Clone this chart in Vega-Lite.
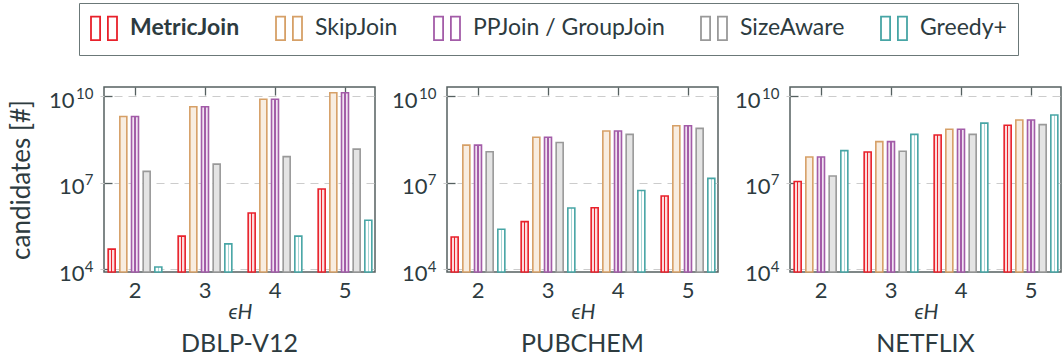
{
  "$schema": "https://vega.github.io/schema/vega-lite/v6.json",
  "background": "white",
  "padding": {"left": 7, "top": 2, "right": 0, "bottom": 0},
  "bounds": "flush",
  "spacing": 72,
  "datasets": {
    "rows": [
      {"dataset": "DBLP-V12", "eps": 2, "algo": "MetricJoin", "candidates": 5.0e4},
      {"dataset": "DBLP-V12", "eps": 2, "algo": "SkipJoin", "candidates": 1.95e9},
      {"dataset": "DBLP-V12", "eps": 2, "algo": "PPJoin / GroupJoin", "candidates": 1.95e9},
      {"dataset": "DBLP-V12", "eps": 2, "algo": "SizeAware", "candidates": 2.45e7},
      {"dataset": "DBLP-V12", "eps": 2, "algo": "Greedy+", "candidates": 1.2e4},
      {"dataset": "DBLP-V12", "eps": 3, "algo": "MetricJoin", "candidates": 1.41e5},
      {"dataset": "DBLP-V12", "eps": 3, "algo": "SkipJoin", "candidates": 4.27e9},
      {"dataset": "DBLP-V12", "eps": 3, "algo": "PPJoin / GroupJoin", "candidates": 4.27e9},
      {"dataset": "DBLP-V12", "eps": 3, "algo": "SizeAware", "candidates": 4.37e7},
      {"dataset": "DBLP-V12", "eps": 3, "algo": "Greedy+", "candidates": 7.6e4},
      {"dataset": "DBLP-V12", "eps": 4, "algo": "MetricJoin", "candidates": 8.9e5},
      {"dataset": "DBLP-V12", "eps": 4, "algo": "SkipJoin", "candidates": 7.76e9},
      {"dataset": "DBLP-V12", "eps": 4, "algo": "PPJoin / GroupJoin", "candidates": 7.76e9},
      {"dataset": "DBLP-V12", "eps": 4, "algo": "SizeAware", "candidates": 7.94e7},
      {"dataset": "DBLP-V12", "eps": 4, "algo": "Greedy+", "candidates": 1.41e5},
      {"dataset": "DBLP-V12", "eps": 5, "algo": "MetricJoin", "candidates": 6.0e6},
      {"dataset": "DBLP-V12", "eps": 5, "algo": "SkipJoin", "candidates": 1.29e10},
      {"dataset": "DBLP-V12", "eps": 5, "algo": "PPJoin / GroupJoin", "candidates": 1.29e10},
      {"dataset": "DBLP-V12", "eps": 5, "algo": "SizeAware", "candidates": 1.45e8},
      {"dataset": "DBLP-V12", "eps": 5, "algo": "Greedy+", "candidates": 5.0e5},
      {"dataset": "PUBCHEM", "eps": 2, "algo": "MetricJoin", "candidates": 1.32e5},
      {"dataset": "PUBCHEM", "eps": 2, "algo": "SkipJoin", "candidates": 2.0e8},
      {"dataset": "PUBCHEM", "eps": 2, "algo": "PPJoin / GroupJoin", "candidates": 2.0e8},
      {"dataset": "PUBCHEM", "eps": 2, "algo": "SizeAware", "candidates": 1.17e8},
      {"dataset": "PUBCHEM", "eps": 2, "algo": "Greedy+", "candidates": 2.45e5},
      {"dataset": "PUBCHEM", "eps": 3, "algo": "MetricJoin", "candidates": 4.47e5},
      {"dataset": "PUBCHEM", "eps": 3, "algo": "SkipJoin", "candidates": 3.72e8},
      {"dataset": "PUBCHEM", "eps": 3, "algo": "PPJoin / GroupJoin", "candidates": 3.72e8},
      {"dataset": "PUBCHEM", "eps": 3, "algo": "SizeAware", "candidates": 2.45e8},
      {"dataset": "PUBCHEM", "eps": 3, "algo": "Greedy+", "candidates": 1.32e6},
      {"dataset": "PUBCHEM", "eps": 4, "algo": "MetricJoin", "candidates": 1.35e6},
      {"dataset": "PUBCHEM", "eps": 4, "algo": "SkipJoin", "candidates": 6.17e8},
      {"dataset": "PUBCHEM", "eps": 4, "algo": "PPJoin / GroupJoin", "candidates": 6.17e8},
      {"dataset": "PUBCHEM", "eps": 4, "algo": "SizeAware", "candidates": 4.68e8},
      {"dataset": "PUBCHEM", "eps": 4, "algo": "Greedy+", "candidates": 5.37e6},
      {"dataset": "PUBCHEM", "eps": 5, "algo": "MetricJoin", "candidates": 3.47e6},
      {"dataset": "PUBCHEM", "eps": 5, "algo": "SkipJoin", "candidates": 9.33e8},
      {"dataset": "PUBCHEM", "eps": 5, "algo": "PPJoin / GroupJoin", "candidates": 9.33e8},
      {"dataset": "PUBCHEM", "eps": 5, "algo": "SizeAware", "candidates": 7.59e8},
      {"dataset": "PUBCHEM", "eps": 5, "algo": "Greedy+", "candidates": 1.41e7},
      {"dataset": "NETFLIX", "eps": 2, "algo": "MetricJoin", "candidates": 1.1e7},
      {"dataset": "NETFLIX", "eps": 2, "algo": "SkipJoin", "candidates": 7.76e7},
      {"dataset": "NETFLIX", "eps": 2, "algo": "PPJoin / GroupJoin", "candidates": 7.76e7},
      {"dataset": "NETFLIX", "eps": 2, "algo": "SizeAware", "candidates": 1.7e7},
      {"dataset": "NETFLIX", "eps": 2, "algo": "Greedy+", "candidates": 1.29e8},
      {"dataset": "NETFLIX", "eps": 3, "algo": "MetricJoin", "candidates": 1.15e8},
      {"dataset": "NETFLIX", "eps": 3, "algo": "SkipJoin", "candidates": 2.63e8},
      {"dataset": "NETFLIX", "eps": 3, "algo": "PPJoin / GroupJoin", "candidates": 2.63e8},
      {"dataset": "NETFLIX", "eps": 3, "algo": "SizeAware", "candidates": 1.23e8},
      {"dataset": "NETFLIX", "eps": 3, "algo": "Greedy+", "candidates": 4.68e8},
      {"dataset": "NETFLIX", "eps": 4, "algo": "MetricJoin", "candidates": 4.47e8},
      {"dataset": "NETFLIX", "eps": 4, "algo": "SkipJoin", "candidates": 7.08e8},
      {"dataset": "NETFLIX", "eps": 4, "algo": "PPJoin / GroupJoin", "candidates": 7.08e8},
      {"dataset": "NETFLIX", "eps": 4, "algo": "SizeAware", "candidates": 4.68e8},
      {"dataset": "NETFLIX", "eps": 4, "algo": "Greedy+", "candidates": 1.15e9},
      {"dataset": "NETFLIX", "eps": 5, "algo": "MetricJoin", "candidates": 9.77e8},
      {"dataset": "NETFLIX", "eps": 5, "algo": "SkipJoin", "candidates": 1.48e9},
      {"dataset": "NETFLIX", "eps": 5, "algo": "PPJoin / GroupJoin", "candidates": 1.48e9},
      {"dataset": "NETFLIX", "eps": 5, "algo": "SizeAware", "candidates": 1.02e9},
      {"dataset": "NETFLIX", "eps": 5, "algo": "Greedy+", "candidates": 2.19e9}
    ]
  },
  "data": {"name": "rows"},
  "hconcat": [
    {
      "width": 271,
      "height": 185,
      "transform": [{"filter": "datum.dataset === 'DBLP-V12'"}],
      "title": {"text": "DBLP-V12"},
      "layer": [
        {
          "mark": {"type": "bar", "strokeWidth": 1.6},
          "encoding": {
            "x": {"field": "eps", "type": "ordinal", "scale": {"range": [-4, 276], "paddingInner": 0.2, "paddingOuter": 0.1},
              "axis": {"orient": "bottom", "title": "ϵH", "titleFontStyle": "italic", "titleFontWeight": "normal", "titleFontSize": 21, "titlePadding": 0, "labelAngle": 0, "labelFontSize": 22, "labelPadding": 15, "tickSize": -7, "domain": false, "grid": false}},
            "xOffset": {"field": "algo", "type": "nominal", "sort": ["MetricJoin", "SkipJoin", "PPJoin / GroupJoin", "SizeAware", "Greedy+"], "scale": {"paddingInner": 0.4, "paddingOuter": 0.1}},
            "y": {"field": "candidates", "type": "quantitative", "stack": null, "scale": {"type": "log", "domain": [8070, 2.05e10], "nice": false},
              "axis": {"orient": "left", "title": "candidates [#]", "titleFontSize": 26, "titleFontWeight": "normal", "titlePadding": 14, "values": [10000, 10000000, 10000000000],
                "labelExpr": "'10'", "labelFontSize": 22, "labelPadding": {"condition": {"test": "datum.value > 1e9", "value": 38}, "value": 28}, "labelOffset": 4, "tickSize": -8, "domain": false,
                "grid": true, "gridDash": [8, 6], "gridColor": "#cccccc", "gridWidth": 1.2}},
            "stroke": {"field": "algo", "type": "nominal",
              "scale": {"domain": ["MetricJoin", "SkipJoin", "PPJoin / GroupJoin", "SizeAware", "Greedy+"], "range": ["#e8212b", "#d6a067", "#a35ca8", "#999999", "#47a5a5"]},
              "legend": {"orient": "none", "legendX": -25, "legendY": -84, "direction": "horizontal", "columns": 5, "title": null,
                "symbolType": "M-1,-0.9H-0.3V0.9H-1Z M0.3,-0.9H1V0.9H0.3Z", "symbolSize": 676, "symbolStrokeWidth": 1.8, "symbolFillColor": "white",
                "labelFontSize": 23, "labelFont": "Lato", "labelColor": "#2d3b3f", "labelOffset": 12, "labelLimit": 400, "columnPadding": 32, "padding": 11, "strokeColor": "#6b7878",
                "labelFontWeight": {"expr": "datum.label === 'MetricJoin' ? 'bold' : 'normal'"}}},
            "fill": {
              "condition": [
                {"test": "datum.algo === 'MetricJoin'", "value": {"gradient": "linear", "x1": 0, "y1": 0, "x2": 1, "y2": 0, "stops": [{"offset": 0, "color": "#fcdcdd"}, {"offset": 0.4, "color": "#fcdcdd"}, {"offset": 0.4, "color": "#e8212b"}, {"offset": 0.6, "color": "#e8212b"}, {"offset": 0.6, "color": "#fcdcdd"}, {"offset": 1, "color": "#fcdcdd"}]}},
                {"test": "datum.algo === 'PPJoin / GroupJoin'", "value": {"gradient": "linear", "x1": 0, "y1": 0, "x2": 1, "y2": 0, "stops": [{"offset": 0, "color": "#f0e2f1"}, {"offset": 0.4, "color": "#f0e2f1"}, {"offset": 0.4, "color": "#a35ca8"}, {"offset": 0.6, "color": "#a35ca8"}, {"offset": 0.6, "color": "#f0e2f1"}, {"offset": 1, "color": "#f0e2f1"}]}},
                {"test": "datum.algo === 'SkipJoin'", "value": "#f8ede1"},
                {"test": "datum.algo === 'SizeAware'", "value": "#e4e4e4"},
                {"test": "datum.algo === 'Greedy+'", "value": {"gradient": "linear", "x1": 0, "y1": 0, "x2": 1, "y2": 0, "stops": [{"offset": 0, "color": "#ffffff"}, {"offset": 0.4, "color": "#ffffff"}, {"offset": 0.4, "color": "#a9d6d6"}, {"offset": 0.6, "color": "#a9d6d6"}, {"offset": 0.6, "color": "#ffffff"}, {"offset": 1, "color": "#ffffff"}]}}
              ],
              "value": "white"
            }
          }
        },
        {
          "mark": {"type": "bar", "opacity": 0},
          "encoding": {
            "x": {"field": "eps", "type": "ordinal", "axis": {"orient": "top", "title": null, "labels": false, "tickSize": -8, "domain": false, "grid": false}},
            "xOffset": {"field": "algo", "type": "nominal", "sort": ["MetricJoin", "SkipJoin", "PPJoin / GroupJoin", "SizeAware", "Greedy+"]},
            "y": {"field": "candidates", "type": "quantitative", "stack": null,
              "axis": {"orient": "left", "title": null, "values": [10000, 10000000, 10000000000], "labelExpr": "datum.value > 1e9 ? '10' : datum.value > 1e6 ? '7' : '4'", "labelFontSize": 15, "labelPadding": 11, "labelOffset": -3, "ticks": false, "tickSize": 0, "domain": false, "grid": false}}
          }
        }
      ],
      "resolve": {"axis": {"x": "independent", "y": "independent"}}
    },
    {
      "width": 271,
      "height": 185,
      "transform": [{"filter": "datum.dataset === 'PUBCHEM'"}],
      "title": {"text": "PUBCHEM"},
      "layer": [
        {
          "mark": {"type": "bar", "strokeWidth": 1.6},
          "encoding": {
            "x": {"field": "eps", "type": "ordinal", "scale": {"range": [-4, 276], "paddingInner": 0.2, "paddingOuter": 0.1},
              "axis": {"orient": "bottom", "title": "ϵH", "titleFontStyle": "italic", "titleFontWeight": "normal", "titleFontSize": 21, "titlePadding": 0, "labelAngle": 0, "labelFontSize": 22, "labelPadding": 15, "tickSize": -7, "domain": false, "grid": false}},
            "xOffset": {"field": "algo", "type": "nominal", "sort": ["MetricJoin", "SkipJoin", "PPJoin / GroupJoin", "SizeAware", "Greedy+"], "scale": {"paddingInner": 0.4, "paddingOuter": 0.1}},
            "y": {"field": "candidates", "type": "quantitative", "stack": null, "scale": {"type": "log", "domain": [8070, 2.05e10], "nice": false},
              "axis": {"orient": "left", "title": null, "values": [10000, 10000000, 10000000000],
                "labelExpr": "'10'", "labelFontSize": 22, "labelPadding": {"condition": {"test": "datum.value > 1e9", "value": 38}, "value": 28}, "labelOffset": 4, "tickSize": -8, "domain": false,
                "grid": true, "gridDash": [8, 6], "gridColor": "#cccccc", "gridWidth": 1.2}},
            "stroke": {"field": "algo", "type": "nominal",
              "scale": {"domain": ["MetricJoin", "SkipJoin", "PPJoin / GroupJoin", "SizeAware", "Greedy+"], "range": ["#e8212b", "#d6a067", "#a35ca8", "#999999", "#47a5a5"]}},
            "fill": {
              "condition": [
                {"test": "datum.algo === 'MetricJoin'", "value": {"gradient": "linear", "x1": 0, "y1": 0, "x2": 1, "y2": 0, "stops": [{"offset": 0, "color": "#fcdcdd"}, {"offset": 0.4, "color": "#fcdcdd"}, {"offset": 0.4, "color": "#e8212b"}, {"offset": 0.6, "color": "#e8212b"}, {"offset": 0.6, "color": "#fcdcdd"}, {"offset": 1, "color": "#fcdcdd"}]}},
                {"test": "datum.algo === 'PPJoin / GroupJoin'", "value": {"gradient": "linear", "x1": 0, "y1": 0, "x2": 1, "y2": 0, "stops": [{"offset": 0, "color": "#f0e2f1"}, {"offset": 0.4, "color": "#f0e2f1"}, {"offset": 0.4, "color": "#a35ca8"}, {"offset": 0.6, "color": "#a35ca8"}, {"offset": 0.6, "color": "#f0e2f1"}, {"offset": 1, "color": "#f0e2f1"}]}},
                {"test": "datum.algo === 'SkipJoin'", "value": "#f8ede1"},
                {"test": "datum.algo === 'SizeAware'", "value": "#e4e4e4"},
                {"test": "datum.algo === 'Greedy+'", "value": {"gradient": "linear", "x1": 0, "y1": 0, "x2": 1, "y2": 0, "stops": [{"offset": 0, "color": "#ffffff"}, {"offset": 0.4, "color": "#ffffff"}, {"offset": 0.4, "color": "#a9d6d6"}, {"offset": 0.6, "color": "#a9d6d6"}, {"offset": 0.6, "color": "#ffffff"}, {"offset": 1, "color": "#ffffff"}]}}
              ],
              "value": "white"
            }
          }
        },
        {
          "mark": {"type": "bar", "opacity": 0},
          "encoding": {
            "x": {"field": "eps", "type": "ordinal", "axis": {"orient": "top", "title": null, "labels": false, "tickSize": -8, "domain": false, "grid": false}},
            "xOffset": {"field": "algo", "type": "nominal", "sort": ["MetricJoin", "SkipJoin", "PPJoin / GroupJoin", "SizeAware", "Greedy+"]},
            "y": {"field": "candidates", "type": "quantitative", "stack": null,
              "axis": {"orient": "left", "title": null, "values": [10000, 10000000, 10000000000], "labelExpr": "datum.value > 1e9 ? '10' : datum.value > 1e6 ? '7' : '4'", "labelFontSize": 15, "labelPadding": 11, "labelOffset": -3, "ticks": false, "tickSize": 0, "domain": false, "grid": false}}
          }
        }
      ],
      "resolve": {"axis": {"x": "independent", "y": "independent"}}
    },
    {
      "width": 271,
      "height": 185,
      "transform": [{"filter": "datum.dataset === 'NETFLIX'"}],
      "title": {"text": "NETFLIX"},
      "layer": [
        {
          "mark": {"type": "bar", "strokeWidth": 1.6},
          "encoding": {
            "x": {"field": "eps", "type": "ordinal", "scale": {"range": [-4, 276], "paddingInner": 0.2, "paddingOuter": 0.1},
              "axis": {"orient": "bottom", "title": "ϵH", "titleFontStyle": "italic", "titleFontWeight": "normal", "titleFontSize": 21, "titlePadding": 0, "labelAngle": 0, "labelFontSize": 22, "labelPadding": 15, "tickSize": -7, "domain": false, "grid": false}},
            "xOffset": {"field": "algo", "type": "nominal", "sort": ["MetricJoin", "SkipJoin", "PPJoin / GroupJoin", "SizeAware", "Greedy+"], "scale": {"paddingInner": 0.4, "paddingOuter": 0.1}},
            "y": {"field": "candidates", "type": "quantitative", "stack": null, "scale": {"type": "log", "domain": [8070, 2.05e10], "nice": false},
              "axis": {"orient": "left", "title": null, "values": [10000, 10000000, 10000000000],
                "labelExpr": "'10'", "labelFontSize": 22, "labelPadding": {"condition": {"test": "datum.value > 1e9", "value": 38}, "value": 28}, "labelOffset": 4, "tickSize": -8, "domain": false,
                "grid": true, "gridDash": [8, 6], "gridColor": "#cccccc", "gridWidth": 1.2}},
            "stroke": {"field": "algo", "type": "nominal",
              "scale": {"domain": ["MetricJoin", "SkipJoin", "PPJoin / GroupJoin", "SizeAware", "Greedy+"], "range": ["#e8212b", "#d6a067", "#a35ca8", "#999999", "#47a5a5"]}},
            "fill": {
              "condition": [
                {"test": "datum.algo === 'MetricJoin'", "value": {"gradient": "linear", "x1": 0, "y1": 0, "x2": 1, "y2": 0, "stops": [{"offset": 0, "color": "#fcdcdd"}, {"offset": 0.4, "color": "#fcdcdd"}, {"offset": 0.4, "color": "#e8212b"}, {"offset": 0.6, "color": "#e8212b"}, {"offset": 0.6, "color": "#fcdcdd"}, {"offset": 1, "color": "#fcdcdd"}]}},
                {"test": "datum.algo === 'PPJoin / GroupJoin'", "value": {"gradient": "linear", "x1": 0, "y1": 0, "x2": 1, "y2": 0, "stops": [{"offset": 0, "color": "#f0e2f1"}, {"offset": 0.4, "color": "#f0e2f1"}, {"offset": 0.4, "color": "#a35ca8"}, {"offset": 0.6, "color": "#a35ca8"}, {"offset": 0.6, "color": "#f0e2f1"}, {"offset": 1, "color": "#f0e2f1"}]}},
                {"test": "datum.algo === 'SkipJoin'", "value": "#f8ede1"},
                {"test": "datum.algo === 'SizeAware'", "value": "#e4e4e4"},
                {"test": "datum.algo === 'Greedy+'", "value": {"gradient": "linear", "x1": 0, "y1": 0, "x2": 1, "y2": 0, "stops": [{"offset": 0, "color": "#ffffff"}, {"offset": 0.4, "color": "#ffffff"}, {"offset": 0.4, "color": "#a9d6d6"}, {"offset": 0.6, "color": "#a9d6d6"}, {"offset": 0.6, "color": "#ffffff"}, {"offset": 1, "color": "#ffffff"}]}}
              ],
              "value": "white"
            }
          }
        },
        {
          "mark": {"type": "bar", "opacity": 0},
          "encoding": {
            "x": {"field": "eps", "type": "ordinal", "axis": {"orient": "top", "title": null, "labels": false, "tickSize": -8, "domain": false, "grid": false}},
            "xOffset": {"field": "algo", "type": "nominal", "sort": ["MetricJoin", "SkipJoin", "PPJoin / GroupJoin", "SizeAware", "Greedy+"]},
            "y": {"field": "candidates", "type": "quantitative", "stack": null,
              "axis": {"orient": "left", "title": null, "values": [10000, 10000000, 10000000000], "labelExpr": "datum.value > 1e9 ? '10' : datum.value > 1e6 ? '7' : '4'", "labelFontSize": 15, "labelPadding": 11, "labelOffset": -3, "ticks": false, "tickSize": 0, "domain": false, "grid": false}}
          }
        }
      ],
      "resolve": {"axis": {"x": "independent", "y": "independent"}}
    }
  ],
  "resolve": {"scale": {"stroke": "shared"}, "legend": {"stroke": "shared"}},
  "config": {
    "font": "Lato",
    "view": {"stroke": "#556060", "strokeWidth": 1.5},
    "title": {"orient": "bottom", "anchor": "middle", "frame": "group", "fontSize": 25, "fontWeight": "normal", "color": "#2d3b3f", "offset": 10, "font": "Lato"},
    "axis": {"labelColor": "#2d3b3f", "titleColor": "#2d3b3f", "tickColor": "#556060", "tickWidth": 1.3, "labelFont": "Lato", "titleFont": "Lato"}
  }
}
